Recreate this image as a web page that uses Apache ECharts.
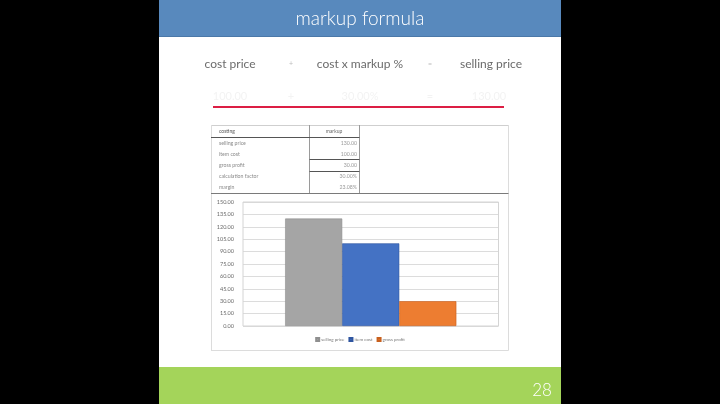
<!DOCTYPE html>
<html><head><meta charset="utf-8">
<script src="https://cdn.jsdelivr.net/npm/echarts@6/dist/echarts.min.js"></script>
<style>html,body{margin:0;padding:0;background:#000;}#c{width:720px;height:404px;}</style>
</head><body><div id="c"></div>
<script>
const categories = [''];
const seriesNames = ['selling price', 'item cost', 'gross profit'];
const sellingPrice = [130];
const itemCost = [100];
const grossProfit = [30];
const yTicks = { min: 0, max: 150, interval: 15 };
const formulaTerms = ['cost price', '+', 'cost x markup %', '=', 'selling price'];
const formulaValues = ['100.00', '+', '30.00%', '=', '130.00'];
const tableHeader = ['costing', 'markup'];
const tableLabels = ['selling price', 'item cost', 'gross profit', 'calculation factor', 'margin'];
const tableValues = ['130.00', '100.00', '30.00', '30.00%', '23.08%'];
const pageNumber = '28';

const chart = echarts.init(document.getElementById('c'));
const font = 'Lato, "Open Sans", sans-serif';
const g = [];
// slide
g.push({type:'rect', shape:{x:159,y:0,width:402,height:404}, style:{fill:'#ffffff'}, z:0});
g.push({type:'rect', shape:{x:159,y:0,width:402,height:37}, style:{fill:'#5889bd'}, z:1});
g.push({type:'line', shape:{x1:159,y1:36.5,x2:561,y2:36.5}, style:{stroke:'#4b78a8',lineWidth:1}, z:2});
g.push({type:'rect', shape:{x:159,y:367,width:402,height:37}, style:{fill:'#a4d45a'}, z:1});
g.push({type:'text', x:360, y:19, style:{text:'markup formula', fill:'#ffffff', font:'300 19px '+font, align:'center', verticalAlign:'middle'}, z:3});
g.push({type:'text', x:542, y:391, style:{text:pageNumber, fill:'#ffffff', font:'300 17px '+font, align:'center', verticalAlign:'middle'}, z:3});
const fx = [230, 291, 360, 430, 491];
formulaTerms.forEach((t,i)=>{
  g.push({type:'text', x:fx[i], y:64, style:{text:t, fill: (t==='+'||t==='=')?'#bbbbbb':'#6b6b6b', font:(t==='+'||t==='='?'7px ':'12px ')+font, align:'center', verticalAlign:'middle'}, z:3});
});
formulaValues.forEach((t,i)=>{
  g.push({type:'text', x:[230,291,360,430,489][i], y:96, style:{text:t, fill:'#f3f3f3', font:'11px '+font, align:'center', verticalAlign:'middle'}, z:3});
});
g.push({type:'line', shape:{x1:213,y1:107,x2:504,y2:107}, style:{stroke:'#dc1e44',lineWidth:2}, z:3});
// embedded sheet image frame
g.push({type:'line', shape:{x1:211,y1:125.5,x2:508.5,y2:125.5}, style:{stroke:'#cfcfcf',lineWidth:1}, z:3});
g.push({type:'line', shape:{x1:508.5,y1:125,x2:508.5,y2:350.5}, style:{stroke:'#dcdcdc',lineWidth:1}, z:3});
g.push({type:'line', shape:{x1:211.5,y1:125,x2:211.5,y2:350.5}, style:{stroke:'#dcdcdc',lineWidth:1}, z:3});
g.push({type:'line', shape:{x1:211,y1:350.5,x2:508.5,y2:350.5}, style:{stroke:'#dcdcdc',lineWidth:1}, z:3});
g.push({type:'line', shape:{x1:211,y1:193.5,x2:508.5,y2:193.5}, style:{stroke:'#7a7a7a',lineWidth:1}, z:3});
g.push({type:'line', shape:{x1:309.5,y1:125,x2:309.5,y2:193}, style:{stroke:'#9a9a9a',lineWidth:1}, z:3});
g.push({type:'line', shape:{x1:359.5,y1:125,x2:359.5,y2:193}, style:{stroke:'#9a9a9a',lineWidth:1}, z:3});
g.push({type:'line', shape:{x1:211,y1:137.5,x2:359.5,y2:137.5}, style:{stroke:'#555555',lineWidth:1}, z:3});
g.push({type:'line', shape:{x1:309.5,y1:159.5,x2:359.5,y2:159.5}, style:{stroke:'#555555',lineWidth:1}, z:3});
g.push({type:'line', shape:{x1:309.5,y1:171.5,x2:359.5,y2:171.5}, style:{stroke:'#555555',lineWidth:1}, z:3});
g.push({type:'text', x:219, y:131.5, style:{text:tableHeader[0], fill:'#555555', font:'5px '+font, align:'left', verticalAlign:'middle'}, z:3});
g.push({type:'text', x:334, y:131.5, style:{text:tableHeader[1], fill:'#666666', font:'5px '+font, align:'center', verticalAlign:'middle'}, z:3});
tableLabels.forEach((t,i)=>{
  const y = 143.5 + i*11;
  g.push({type:'text', x:219, y:y, style:{text:t, fill:'#8a8a8a', font:'5.2px '+font, align:'left', verticalAlign:'middle'}, z:3});
  g.push({type:'text', x:357, y:y, style:{text:tableValues[i], fill:'#9a9a9a', font:'5.2px '+font, align:'right', verticalAlign:'middle'}, z:3});
});

chart.setOption({
  backgroundColor: '#000000',
  animation: false,
  graphic: g,
  grid: { left: 243, right: 221.5, top: 202, bottom: 78, show: true, borderColor: '#d4d4d4', borderWidth: 1, backgroundColor: 'transparent', z: 5 },
  legend: {
    data: seriesNames, top: 337, left: 'center', padding: 0, itemWidth: 3, itemHeight: 3, itemGap: 4, icon: 'rect',
    textStyle: { fontSize: 4.5, color: '#777777', fontFamily: font, padding: [0, 0, 0, -3] }, z: 6
  },
  xAxis: { type: 'category', data: categories, axisLine: { show: false }, axisTick: { show: false }, axisLabel: { show: false } },
  yAxis: {
    type: 'value', min: yTicks.min, max: yTicks.max, interval: yTicks.interval,
    axisLine: { show: false }, axisTick: { show: false },
    axisLabel: { fontSize: 5.5, color: '#6a6a6a', fontFamily: font, margin: 9, formatter: v => v.toFixed(2) },
    splitLine: { lineStyle: { color: '#dcdcdc', width: 1 } }
  },
  series: [
    { name: seriesNames[0], type: 'bar', data: sellingPrice, barGap: '0%', barCategoryGap: '33%', itemStyle: { color: '#a5a5a5', borderColor: '#8f8f8f', borderWidth: 0.6 }, z: 6 },
    { name: seriesNames[1], type: 'bar', data: itemCost, itemStyle: { color: '#4472c4', borderColor: '#2f55a0', borderWidth: 0.6 }, z: 6 },
    { name: seriesNames[2], type: 'bar', data: grossProfit, itemStyle: { color: '#ed7d31', borderColor: '#c8601e', borderWidth: 0.6 }, z: 6 }
  ]
});
</script></body></html>
